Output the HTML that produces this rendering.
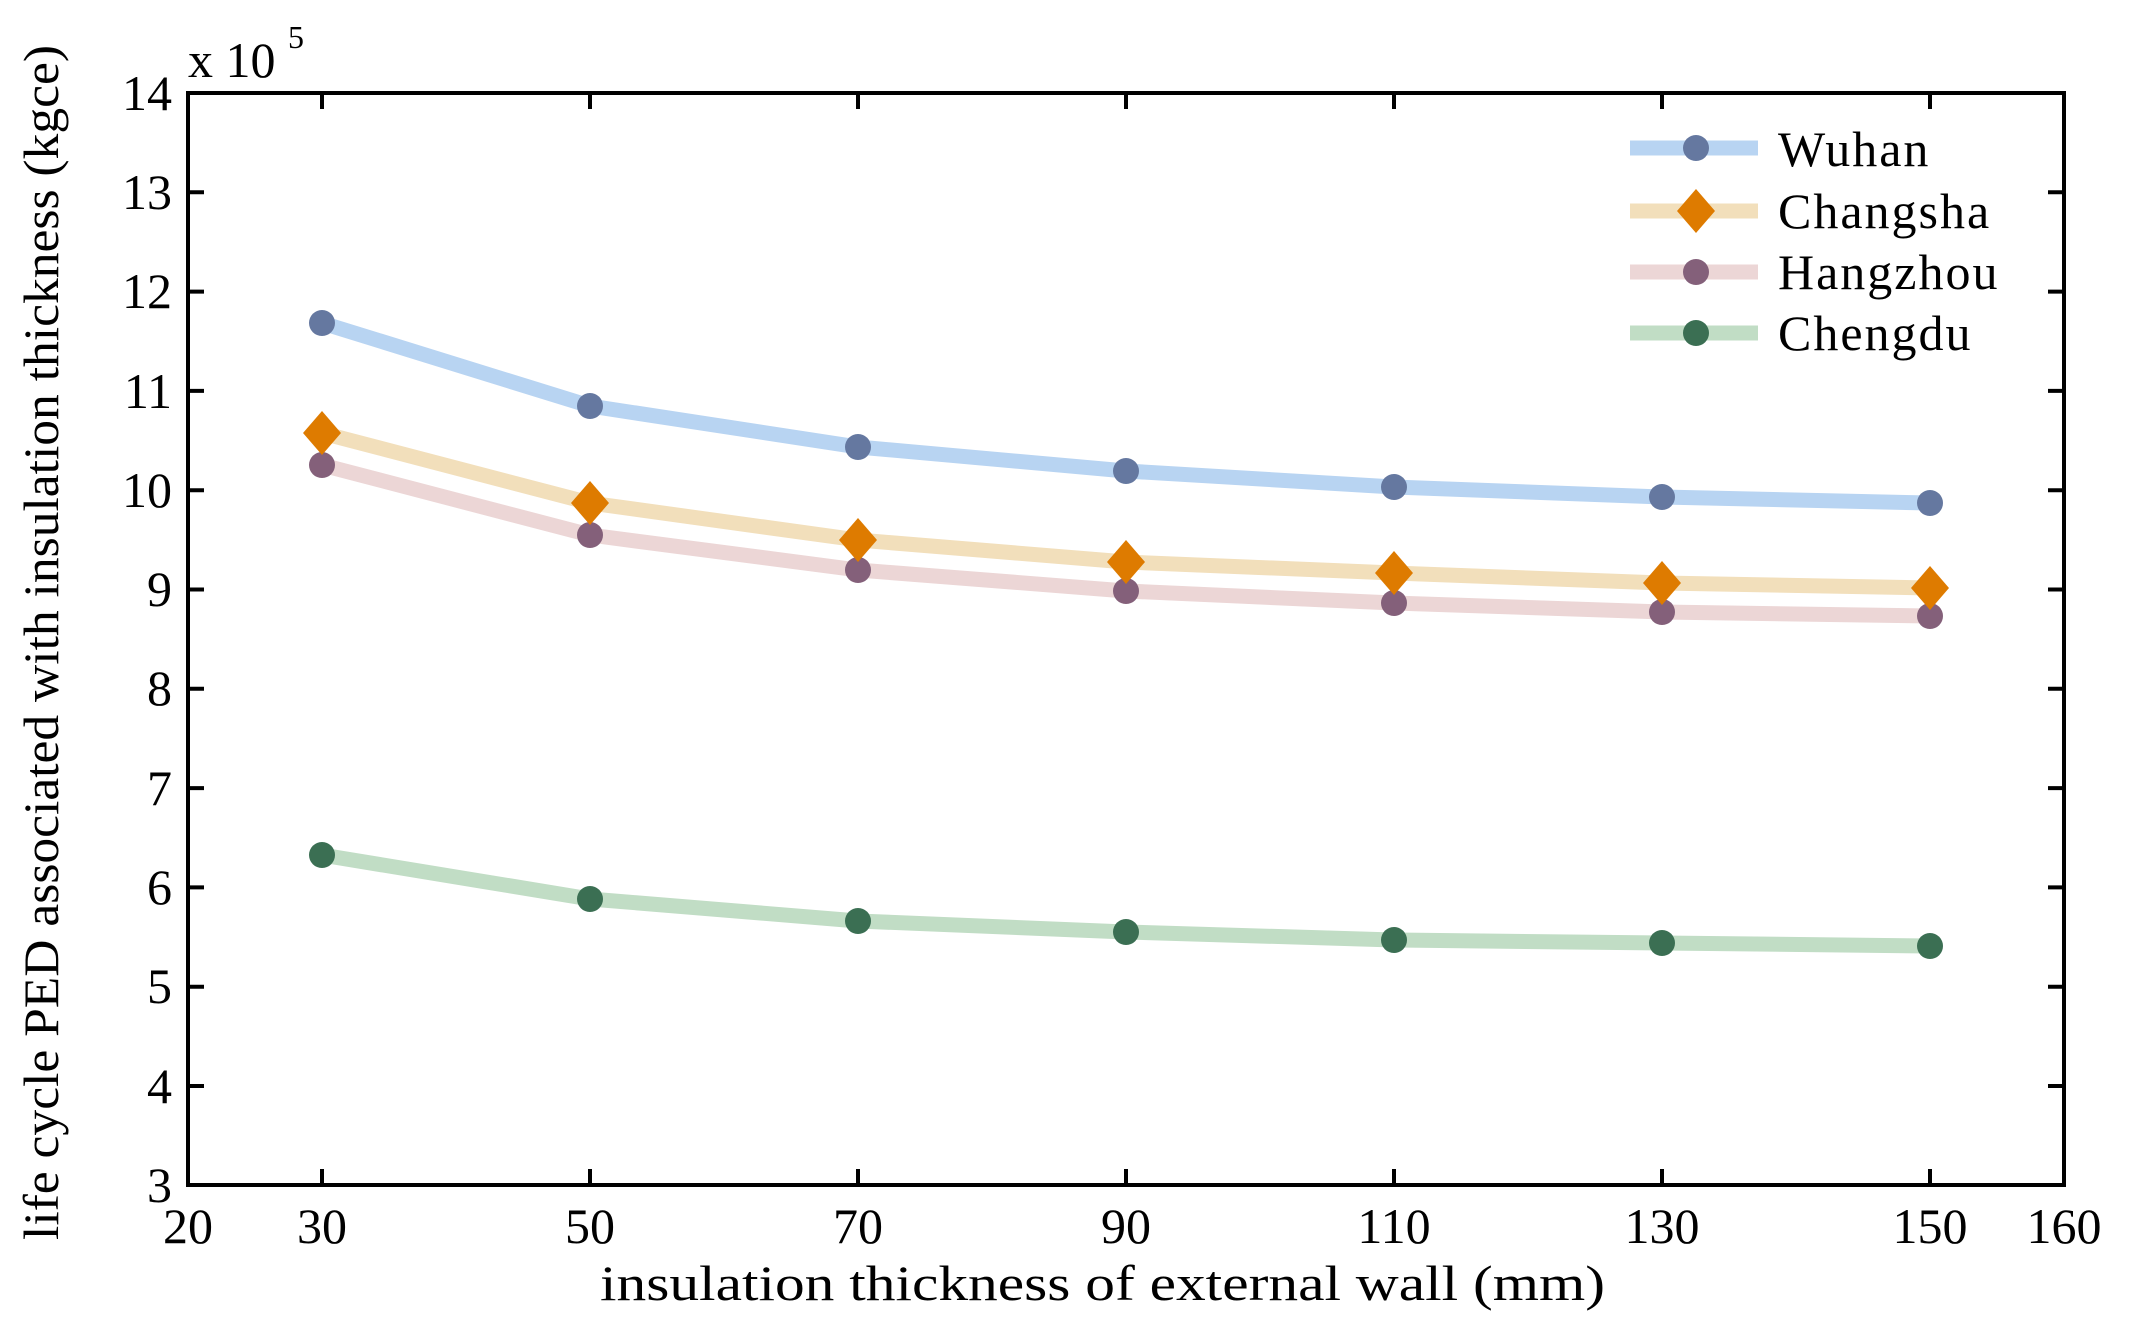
<!DOCTYPE html>
<html><head><meta charset="utf-8"><style>html,body{margin:0;padding:0;background:#fff}svg{display:block}text{font-family:"Liberation Serif","Times New Roman",serif}</style></head>
<body>
<svg width="2138" height="1337" viewBox="0 0 2138 1337" xmlns="http://www.w3.org/2000/svg" fill="#000">
<rect width="2138" height="1337" fill="#fff"/>
<defs>
<clipPath id="c"><rect x="188" y="93" width="1876" height="1092"/></clipPath>
</defs>
<g clip-path="url(#c)" fill="none" stroke-width="15" stroke-linejoin="round">
<polyline stroke="#b8d4f2" points="322,323 590,406 858,447 1126,471 1394,487 1662,497 1930,503"/>
<polyline stroke="#f2dfbb" points="322,433 590,503 858,540 1126,562 1394,573 1662,583 1930,588"/>
<polyline stroke="#ecd6d6" points="322,465 590,535 858,570 1126,591 1394,603 1662,612 1930,616"/>
<polyline stroke="#c1ddc5" points="322,855 590,899 858,921 1126,932 1394,940 1662,943 1930,946"/>
</g>
<g fill="#6578a0">
<circle cx="322" cy="323" r="13"/><circle cx="590" cy="406" r="13"/><circle cx="858" cy="447" r="13"/><circle cx="1126" cy="471" r="13"/><circle cx="1394" cy="487" r="13"/><circle cx="1662" cy="497" r="13"/><circle cx="1930" cy="503" r="13"/>
</g>
<g fill="#84607a">
<circle cx="322" cy="465" r="13"/><circle cx="590" cy="535" r="13"/><circle cx="858" cy="570" r="13"/><circle cx="1126" cy="591" r="13"/><circle cx="1394" cy="603" r="13"/><circle cx="1662" cy="612" r="13"/><circle cx="1930" cy="616" r="13"/>
</g>
<g fill="#de7b00">
<polygon points="322,411 341,433 322,455 303,433"/><polygon points="590,481 609,503 590,525 571,503"/><polygon points="858,518 877,540 858,562 839,540"/><polygon points="1126,540 1145,562 1126,584 1107,562"/><polygon points="1394,551 1413,573 1394,595 1375,573"/><polygon points="1662,561 1681,583 1662,605 1643,583"/><polygon points="1930,566 1949,588 1930,610 1911,588"/>
</g>
<g fill="#3b6f53">
<circle cx="322" cy="855" r="13"/><circle cx="590" cy="899" r="13"/><circle cx="858" cy="921" r="13"/><circle cx="1126" cy="932" r="13"/><circle cx="1394" cy="940" r="13"/><circle cx="1662" cy="943" r="13"/><circle cx="1930" cy="946" r="13"/>
</g>
<g stroke="#000" stroke-width="4" fill="none">
<rect x="188" y="93" width="1876" height="1092"/>
<path d="M322,1185v-16M590,1185v-16M858,1185v-16M1126,1185v-16M1394,1185v-16M1662,1185v-16M1930,1185v-16
M322,93v16M590,93v16M858,93v16M1126,93v16M1394,93v16M1662,93v16M1930,93v16
M188,192.3h16M188,291.6h16M188,390.9h16M188,490.2h16M188,589.5h16M188,688.8h16M188,788.1h16M188,887.4h16M188,986.7h16M188,1086h16
M2064,192.3h-16M2064,291.6h-16M2064,390.9h-16M2064,490.2h-16M2064,589.5h-16M2064,688.8h-16M2064,788.1h-16M2064,887.4h-16M2064,986.7h-16M2064,1086h-16"/>
</g>
<g font-size="50" text-anchor="end">
<text x="172" y="110">14</text><text x="172" y="209">13</text><text x="172" y="308">12</text><text x="172" y="408">11</text><text x="172" y="507">10</text><text x="172" y="606">9</text><text x="172" y="705">8</text><text x="172" y="805">7</text><text x="172" y="904">6</text><text x="172" y="1003">5</text><text x="172" y="1103">4</text><text x="172" y="1202">3</text>
</g>
<g font-size="50" text-anchor="middle">
<text x="188" y="1243">20</text><text x="322" y="1243">30</text><text x="590" y="1243">50</text><text x="858" y="1243">70</text><text x="1126" y="1243">90</text><text x="1394" y="1243">110</text><text x="1662" y="1243">130</text><text x="1930" y="1243">150</text><text x="2064" y="1243">160</text>
</g>
<text x="600" y="1300" font-size="50" textLength="1005" lengthAdjust="spacingAndGlyphs">insulation thickness of external wall (mm)</text>
<text transform="translate(58,1240) rotate(-90)" font-size="50" textLength="1195" lengthAdjust="spacingAndGlyphs">life cycle PED associated with insulation thickness (kgce)</text>
<text x="188" y="77" font-size="50">x 10</text>
<text x="288" y="48" font-size="32">5</text>
<g stroke-width="15">
<line x1="1630" y1="148" x2="1758" y2="148" stroke="#b8d4f2"/>
<line x1="1630" y1="211" x2="1758" y2="211" stroke="#f2dfbb"/>
<line x1="1630" y1="272" x2="1758" y2="272" stroke="#ecd6d6"/>
<line x1="1630" y1="333" x2="1758" y2="333" stroke="#c1ddc5"/>
</g>
<circle cx="1696" cy="148" r="13" fill="#6578a0"/>
<polygon points="1696,189 1715,211 1696,233 1677,211" fill="#de7b00"/>
<circle cx="1696" cy="272" r="13" fill="#84607a"/>
<circle cx="1696" cy="333" r="13" fill="#3b6f53"/>
<g font-size="50" letter-spacing="2">
<text x="1778" y="166">Wuhan</text>
<text x="1778" y="228">Changsha</text>
<text x="1778" y="289">Hangzhou</text>
<text x="1778" y="350">Chengdu</text>
</g>
</svg>
</body></html>
